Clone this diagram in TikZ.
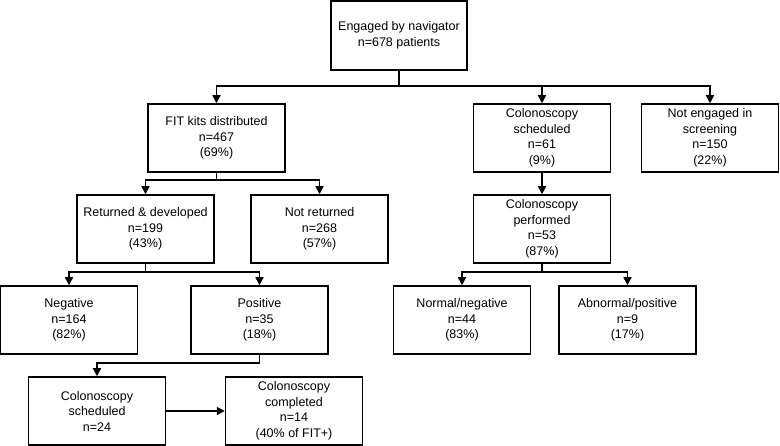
\documentclass[tikz,border=0pt]{standalone}
\usepackage{fontspec}
\setmainfont{Liberation Sans}
\usetikzlibrary{arrows.meta}
\begin{document}
\begin{tikzpicture}[x=1pt,y=-1pt,
  box/.style={draw,line width=1.5pt,minimum width=137pt,minimum height=68pt,inner sep=2pt,align=center,
    font=\fontsize{12.5pt}{15.5pt}\selectfont},
  conn/.style={line width=1.5pt},
  arr/.style={conn,-{Triangle[length=8pt,width=8pt]}}]
\useasboundingbox (0,0) rectangle (780,446);
\node[box,minimum width=136pt,minimum height=69pt] (top) at (399,35.5) {Engaged by navigator\\n=678 patients};
\node[box] (fit) at (216.5,138) {FIT kits distributed\\n=467\\(69\%)};
\node[box] (cs) at (542,138) {Colonoscopy\\scheduled\\n=61\\(9\%)};
\node[box] (ne) at (710,138) {Not engaged in\\screening\\n=150\\(22\%)};
\node[box] (ret) at (145.5,229) {Returned \& developed\\n=199\\(43\%)};
\node[box] (nr) at (319.5,229) {Not returned\\n=268\\(57\%)};
\node[box] (cp) at (542,229) {Colonoscopy\\performed\\n=53\\(87\%)};
\node[box] (neg) at (69,320) {Negative\\n=164\\(82\%)};
\node[box] (pos) at (259.5,320) {Positive\\n=35\\(18\%)};
\node[box] (nn) at (462,320) {Normal/negative\\n=44\\(83\%)};
\node[box] (ap) at (627.5,320) {Abnormal/positive\\n=9\\(17\%)};
\node[box] (cs2) at (97,411) {Colonoscopy\\scheduled\\n=24};
\node[box] (cc) at (294,411) {Colonoscopy\\completed\\n=14\\(40\% of FIT+)};
\coordinate (j1) at (399,86);
\coordinate (j2) at (216.5,180);
\coordinate (j3) at (145.5,272);
\coordinate (j4) at (542,272);
\coordinate (j5) at (259.5,363);
\draw[conn] (top.south) -- (j1);
\draw[arr] (j1) -| (fit.north);
\draw[arr] (j1) -| (cs.north);
\draw[arr] (j1) -| (ne.north);
\draw[conn] (fit.south) -- (j2);
\draw[arr] (j2) -| (ret.north);
\draw[arr] (j2) -| (nr.north);
\draw[arr] (cs.south) -- (cp.north);
\draw[conn] (ret.south) -- (j3);
\draw[arr] (j3) -| (neg.north);
\draw[arr] (j3) -| (pos.north);
\draw[conn] (cp.south) -- (j4);
\draw[arr] (j4) -| (nn.north);
\draw[arr] (j4) -| (ap.north);
\draw[conn] (pos.south) -- (j5);
\draw[arr] (j5) -| (cs2.north);
\draw[arr] (cs2.east) -- (cc.west);
\end{tikzpicture}
\end{document}
